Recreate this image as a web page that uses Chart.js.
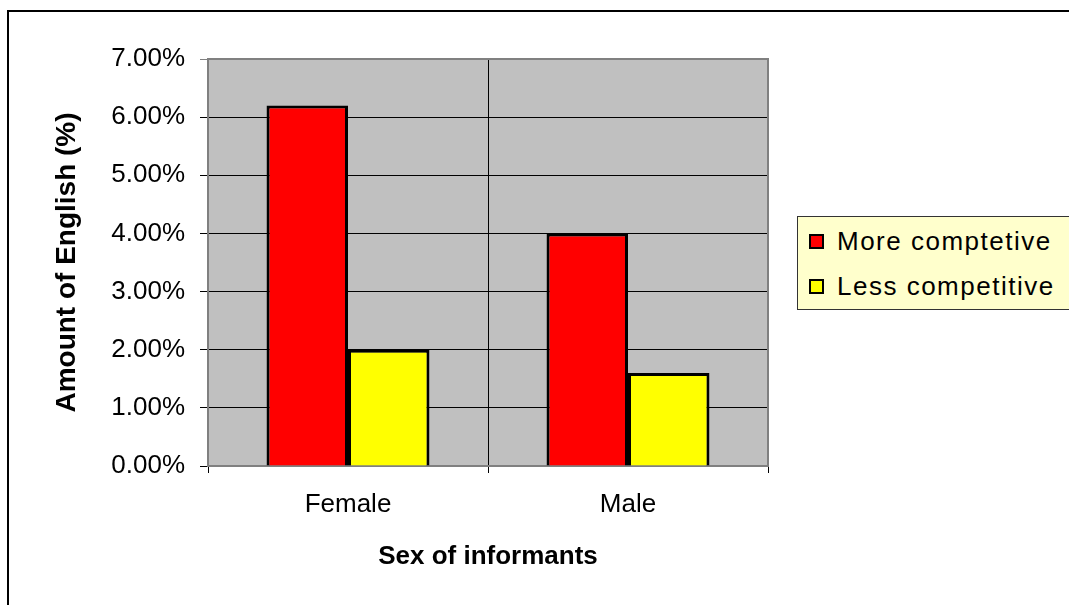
<!DOCTYPE html>
<html>
<head>
<meta charset="utf-8">
<script src="https://cdn.jsdelivr.net/npm/chart.js@4.4.0/dist/chart.umd.min.js"></script>
<style>
  body { margin: 0; background: #fff; }
  #wrap { position: relative; width: 1069px; height: 605px; overflow: hidden; }
  #frame { position: absolute; left: 7px; top: 10px; width: 1200px; height: 700px;
           border-left: 2px solid #000; border-top: 2px solid #000; pointer-events: none; }
  #legend { position: absolute; left: 797px; top: 216px; width: 290px; height: 92px;
            background: #ffffcc; border: 1px solid #333; font-family: "Liberation Sans", Arial, sans-serif;
            font-size: 26px; color: #000; }
  .item { position: absolute; left: 11px; height: 30px; line-height: 30px; white-space: nowrap; letter-spacing: 1.5px; }
  .sw { display: inline-block; width: 11px; height: 11px; border: 2px solid #000; margin-right: 13px; vertical-align: middle; position: relative; top: -2px; }
</style>
</head>
<body>
<div id="wrap">
  <canvas id="chart" width="1069" height="605"></canvas>
  <div id="legend"></div>
  <div id="frame"></div>
</div>
<script>
// data
const categories = ['Female', 'Male'];
const moreCompetitive = [0.062, 0.040];
const lessCompetitive = [0.020, 0.016];
const seriesNames = ['More comptetive', 'Less competitive'];
const seriesColors = ['#ff0000', '#ffff00'];

const FONT = '"Liberation Sans", Arial, sans-serif';

// grey plot background + border
const plotBg = {
    id: 'plotBg',
    beforeDraw(chart) {
        const { ctx, chartArea: a } = chart;
        ctx.save();
        ctx.fillStyle = '#c0c0c0';
        ctx.fillRect(a.left, a.top, a.right - a.left, a.bottom - a.top);
        ctx.restore();
    },
    beforeDatasetsDraw(chart) {
        const { ctx, chartArea: a } = chart;
        ctx.save();
        ctx.strokeStyle = '#808080';
        ctx.lineWidth = 2;
        ctx.strokeRect(a.left, a.top, a.right - a.left, a.bottom - a.top);
        ctx.restore();
    }
};

const chart = new Chart(document.getElementById('chart'), {
    type: 'bar',
    data: {
        labels: categories,
        datasets: [
            { label: seriesNames[0], data: moreCompetitive, backgroundColor: seriesColors[0] },
            { label: seriesNames[1], data: lessCompetitive, backgroundColor: seriesColors[1] }
        ]
    },
    options: {
        responsive: false,
        animation: false,
        layout: { padding: { top: 59, right: 301, left: 0, bottom: 0 } },
        datasets: {
            bar: {
                borderColor: '#000',
                borderWidth: 3,
                categoryPercentage: 0.582,
                barPercentage: 1
            }
        },
        plugins: {
            legend: { display: false },
            tooltip: { enabled: false }
        },
        scales: {
            x: {
                afterFit(scale) { scale.height = 139; },
                grid: { color: '#000', lineWidth: 1, tickLength: 7, offset: true },
                border: { color: '#404040', width: 1 },
                ticks: { color: '#000', padding: 16, font: { family: FONT, size: 26 } },
                title: {
                    display: true,
                    text: 'Sex of informants',
                    color: '#000',
                    padding: { top: 0, bottom: 33 },
                    font: { family: FONT, size: 26, weight: 'bold' }
                }
            },
            y: {
                min: 0,
                max: 0.07,
                afterFit(scale) { scale.width = 208; },
                grid: {
                    color: ctx => (ctx.tick && ctx.tick.value === 0.07) ? '#808080' : '#000',
                    lineWidth: 1,
                    tickLength: 8
                },
                border: { color: '#808080', width: 2 },
                ticks: {
                    stepSize: 0.01,
                    color: '#000',
                    padding: 15,
                    font: { family: FONT, size: 26 },
                    callback: v => (v * 100).toFixed(2) + '%'
                },
                title: {
                    display: true,
                    text: 'Amount of English (%)',
                    color: '#000',
                    padding: { top: 50, bottom: 0 },
                    font: { family: FONT, size: 28, weight: 'bold' }
                }
            }
        }
    },
    plugins: [plotBg]
});

// html legend from the datasets
const legend = document.getElementById('legend');
chart.data.datasets.forEach((ds, i) => {
    const row = document.createElement('div');
    row.className = 'item';
    row.style.top = (9 + i * 45) + 'px';
    row.innerHTML = '<span class="sw" style="background:' + ds.backgroundColor + '"></span>' + ds.label;
    legend.appendChild(row);
});
</script>
</body>
</html>
